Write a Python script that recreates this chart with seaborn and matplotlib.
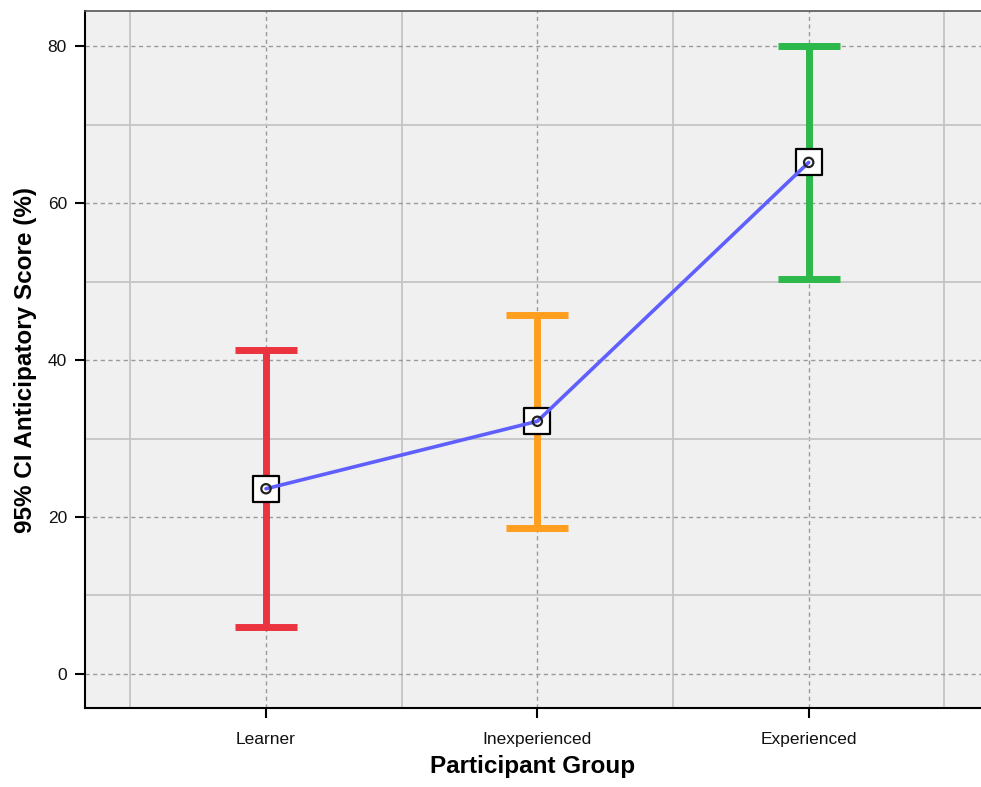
import numpy as np
import pandas as pd
import matplotlib.pyplot as plt
import seaborn as sns

groups = ["Learner", "Inexperienced", "Experienced"]
means = [23.6, 32.2, 65.2]
ci_low = [6.0, 18.6, 50.4]
ci_high = [41.3, 45.7, 80.0]
bar_colors = ["#ec3340", "#ff9e1f", "#2cb84a"]

sns.set_theme(style="white")
plt.rcParams["font.family"] = ["Liberation Sans", "DejaVu Sans"]

df = pd.DataFrame({"group": groups, "mean": means, "low": ci_low, "high": ci_high})
df["pos"] = np.arange(len(df))

fig = plt.figure(figsize=(9.81, 7.87), dpi=100)
ax = fig.add_axes([85 / 981, 1 - 708 / 787, 1 - 85 / 981, (708 - 11) / 787])
ax.set_facecolor("#f0f0f0")

# grid: dashed at majors, solid at minors
ax.set_xlim(-0.667, 2.635)
ax.set_ylim(-4.35, 84.5)
ax.set_yticks([0, 20, 40, 60, 80])
ax.set_yticks([10, 30, 50, 70], minor=True)
ax.set_xticks(df["pos"])
ax.set_xticks([-0.5, 0.5, 1.5, 2.5], minor=True)
ax.grid(which="major", color="#9a9a9a", linestyle=(0, (3, 2.5)), linewidth=1)
ax.grid(which="minor", color="#c4c4c4", linestyle="-", linewidth=1.3)
ax.set_axisbelow(True)

for i, row in df.iterrows():
    ax.errorbar(row["pos"], row["mean"],
                yerr=[[row["mean"] - row["low"]], [row["high"] - row["mean"]]],
                fmt="none", ecolor=bar_colors[i], elinewidth=5, capsize=22.5, capthick=5, zorder=3)

# square markers, then the mean line over them, then the small circles
ax.scatter(df["pos"], df["mean"], marker="s", s=340, facecolor="white", edgecolor="black",
           linewidth=1.6, zorder=4)
sns.lineplot(data=df, x="pos", y="mean", color="#5f5fff", linewidth=2.6, ax=ax, zorder=5)
ax.scatter(df["pos"], df["mean"], marker="o", s=45, facecolor="none", edgecolor="#222222",
           linewidth=1.6, zorder=6)

ax.set_xticklabels(groups, fontsize=12.5, color="#111111")
ax.tick_params(axis="y", labelsize=12.5, labelcolor="#111111", pad=6)
ax.tick_params(axis="x", pad=10)
ax.tick_params(which="major", direction="out", length=7, width=1.5, color="black", left=True, bottom=True)
ax.tick_params(which="minor", length=0)

for s in ["left", "bottom"]:
    ax.spines[s].set_color("black")
    ax.spines[s].set_linewidth(1.5)
ax.spines["top"].set_color("#555555")
ax.spines["top"].set_linewidth(1.2)
ax.spines["right"].set_visible(False)

ax.set_xlabel("Participant Group", fontsize=17.5, fontweight="bold", labelpad=6, color="black")
ax.set_ylabel("95% CI Anticipatory Score (%)", fontsize=17.5, fontweight="bold", labelpad=8, color="black")

fig.savefig("out.png", dpi=100)
